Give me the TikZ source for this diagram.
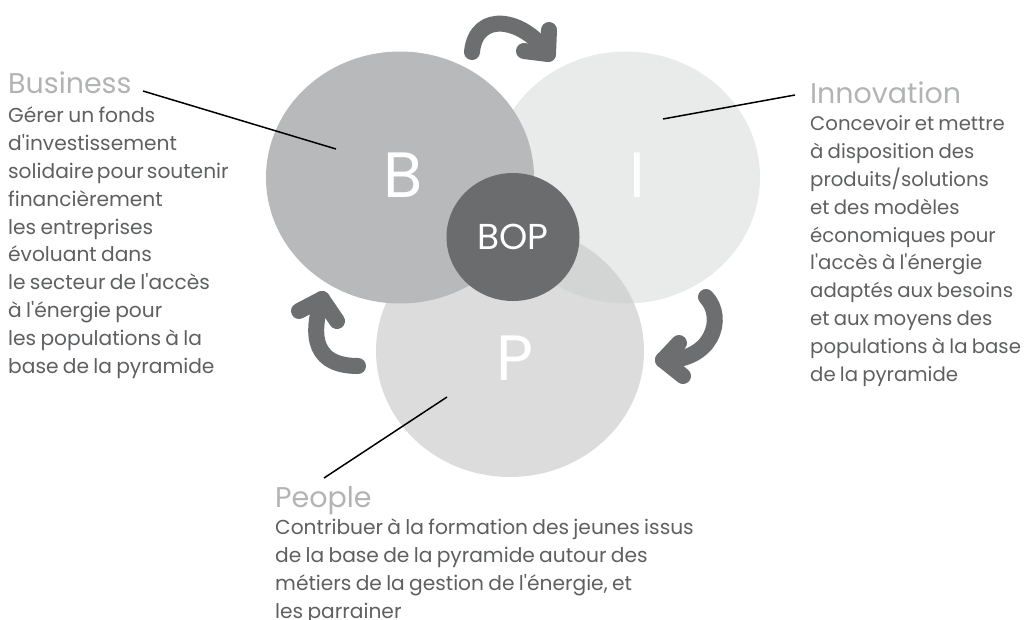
\documentclass[tikz,border=0pt]{standalone}
\usepackage{fontspec}
\setmainfont{Poppins}[Ligatures=TeXOff, WordSpace=0.8]
\usetikzlibrary{shapes.geometric}

\definecolor{bfill}{HTML}{B8B9BB}
\definecolor{ifill}{HTML}{E9EAEA}
\definecolor{pfill}{HTML}{C8C9C9}
\definecolor{bopfill}{HTML}{6B6C6E}
\definecolor{arrowgray}{HTML}{6D6E70}
\definecolor{titlegray}{HTML}{B2B3B5}
\definecolor{bodygray}{HTML}{5E5F61}

% a line set with a narrow gap between its words
\newcommand{\tightline}[1]{{\spaceskip=3pt\relax #1}}

\begin{document}
\begin{tikzpicture}[x=1pt,y=-1pt,
  blob/.style={ellipse, draw=none, inner sep=0pt,
    minimum width=268pt, minimum height=252pt},
  letter/.style={inner sep=0pt, text=white,
    font=\fontsize{64}{64}\selectfont},
  heading/.style={anchor=base west, inner sep=0pt, text=titlegray,
    font=\fontsize{28.5}{30}\selectfont},
  % multi-line blocks are anchored at the baseline of their last line
  body/.style={anchor=base west, inner sep=0pt, align=left, text=bodygray,
    font=\fontsize{20.2}{27.8}\selectfont},
  leader/.style={draw=black, line width=1.5pt},
  turn/.style={draw=arrowgray, line width=16pt, line cap=round, line join=round}
]
\useasboundingbox (0,0) rectangle (1024,619);
\clip (0,0) rectangle (1024,619);

% the three overlapping discs
\node[blob, fill=ifill] (I) at (626,177.5) {};
\node[blob, fill=pfill, fill opacity=0.64] (P) at (510,351) {};
\node[blob, fill=bfill] (B) at (400,177.5) {};
\node[ellipse, draw=none, inner sep=0pt, fill=bopfill, text=white,
      minimum width=133pt, minimum height=128pt,
      font=\fontsize{36}{36}\selectfont] (BOP) at (513,237) {BOP};

% disc letters
\node[letter] (Bl) at (403,175.5) {B};
\node[letter] (Il) at (637,175.5) {I};
\node[letter] (Pl) at (515,358.5) {P};

% cycle arrows
\draw[turn] (472,52) .. controls (476,10) and (524,18) .. (548,54);
\draw[turn] (549,30) -- (548,54) -- (524,51);
\draw[turn] (706,297) .. controls (726,318) and (712,362) .. (663,360);
\draw[turn] (679,343) -- (663,360) -- (683,376);
\draw[turn] (358,366) .. controls (306,366) and (314,324) .. (322,299);
\draw[turn] (299,311) -- (322,299) -- (337,321);

% Business
\node[heading] (bt) at (8,93) {Business};
\node[body] (bb) at (8,373) {Gérer un fonds\\d'investissement\\\tightline{solidaire pour soutenir}\\financièrement\\les entreprises\\évoluant dans\\le secteur de l'accès\\à l'énergie pour\\les populations à la\\base de la pyramide};
\coordinate (bs) at (143,91);
\coordinate (be) at (336,149);
\draw[leader] (bs) -- (be);

% Innovation
\node[heading] (it) at (810,103) {Innovation};
\node[body, font=\fontsize{19.7}{27.8}\selectfont] (ib) at (810,381) {Concevoir et mettre\\à disposition des\\produits/solutions\\et des modèles\\économiques pour\\l'accès à l'énergie\\adaptés aux besoins\\et aux moyens des\\populations à la base\\de la pyramide};
\coordinate (is) at (795,95);
\coordinate (ie) at (663,119);
\draw[leader] (is) -- (ie);

% People
\node[heading] (pt) at (275,507) {People};
\node[body] (pb) at (275,618) {Contribuer à la formation des jeunes issus\\de la base de la pyramide autour des\\métiers de la gestion de l'énergie, et\\les parrainer};
\coordinate (ps) at (324,478);
\coordinate (pe) at (447,397);
\draw[leader] (ps) -- (pe);
\end{tikzpicture}
\end{document}
